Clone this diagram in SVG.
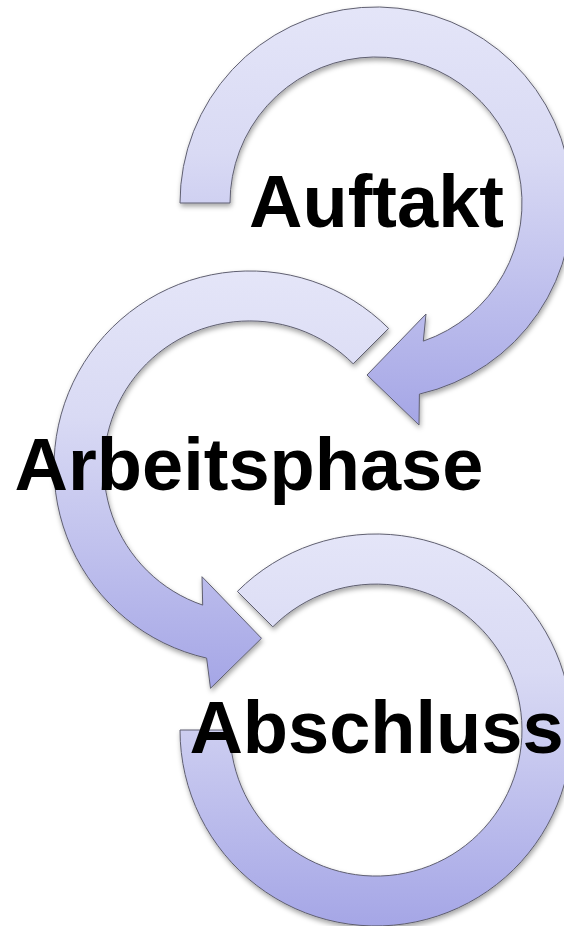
<svg xmlns="http://www.w3.org/2000/svg" width="564" height="926" viewBox="0 0 564 926">
<style>
.arc{fill:url(#g);stroke:#5f5f70;stroke-width:1;filter:url(#sh)}
.lbl{font-family:"Liberation Sans",Arial,sans-serif;font-weight:bold;font-size:74px;fill:#000;text-anchor:middle}
</style>
<defs>
<linearGradient id="g" x1="0" y1="0" x2="0" y2="1">
<stop offset="0" stop-color="#e4e5f8"/>
<stop offset="0.35" stop-color="#d9daf4"/>
<stop offset="1" stop-color="#a5a6e6"/>
</linearGradient>
<filter id="sh" x="-10%" y="-10%" width="130%" height="130%">
<feDropShadow dx="1" dy="3" stdDeviation="2.5" flood-color="#000" flood-opacity="0.35"/>
</filter>
</defs>
<rect width="564" height="926" fill="#fff"/>
<g id="node-auftakt">
<path class="arc" d="M180,203 A196,196 0 1 1 419.4,394.1 L419,425 L367,375 L426,314 L423.3,341.1 A146,146 0 1 0 230,203 Z"/>
</g>
<g id="node-arbeitsphase">
<path class="arc" d="M388.6,328.4 A196,196 0 1 0 206.6,658.1 L210.5,688.3 L261.5,638.3 L202,576.7 L202.7,605.1 A146,146 0 1 1 353.2,363.8 Z"/>
</g>
<g id="node-abschluss">
<path class="arc" d="M237.4,591.4 A196,196 0 1 1 180,730 L230,730 A146,146 0 1 0 272.8,626.8 Z"/>
</g>
<g id="connectors"/>
<g id="labels">
<text class="lbl" x="376.5" y="227">Auftakt</text>
<text class="lbl" x="249" y="490">Arbeitsphase</text>
<text class="lbl" x="376.5" y="753">Abschluss</text>
</g>
</svg>
